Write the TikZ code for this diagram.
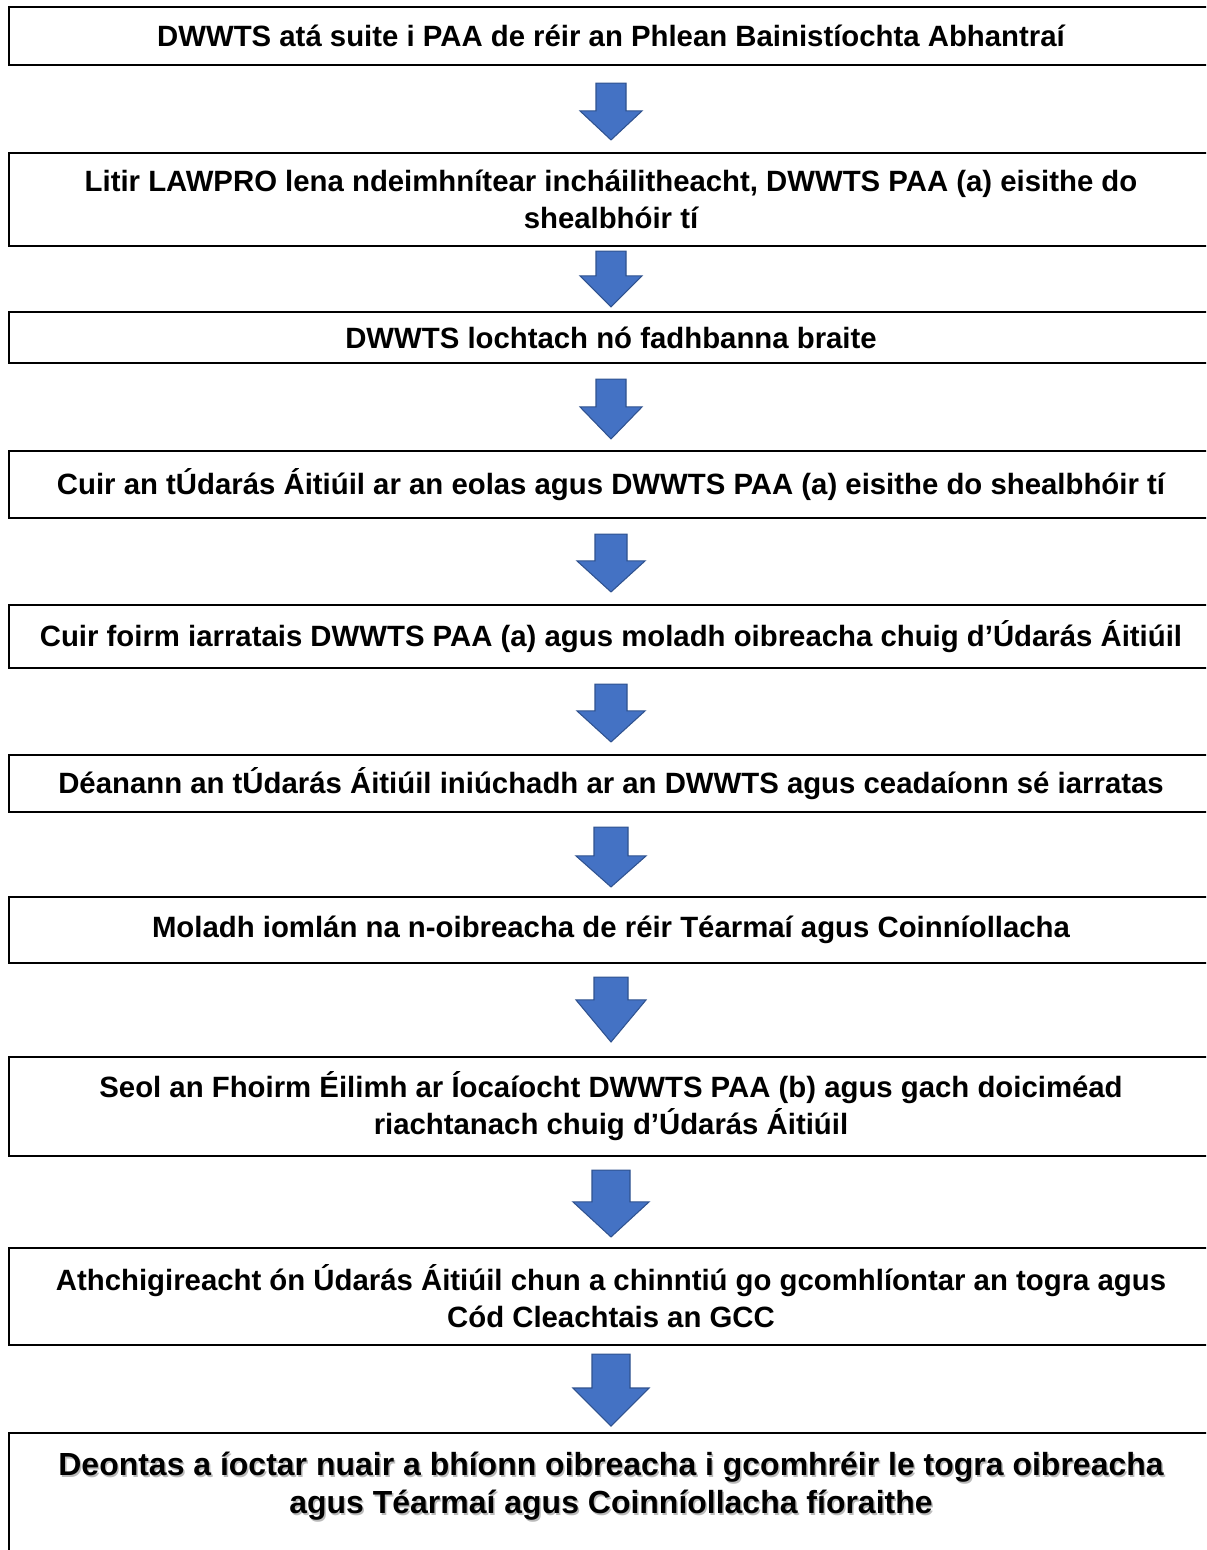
\documentclass[tikz,border=0pt]{standalone}
\usepackage{fontspec}
\setmainfont{Liberation Sans}
\usepackage{tikz}
\usetikzlibrary{calc,positioning}
\definecolor{arrowblue}{HTML}{4472C4}
\definecolor{arrowedge}{HTML}{2F528F}
% block arrow from box #1 down to box #2
% #3 gap below #1, #4 gap above #2, #5 head length, #6 half shaft, #7 half head
\newcommand{\flowarrow}[7]{%
  \filldraw[arrowfill]
    ($(#1.south)+(-#6,#3)$) -- ($(#1.south)+(#6,#3)$)
    -- ($(#2.north)+(#6,-#4-#5)$) -- ($(#2.north)+(#7,-#4-#5)$)
    -- ($(#2.north)+(0,-#4)$)
    -- ($(#2.north)+(-#7,-#4-#5)$) -- ($(#2.north)+(-#6,-#4-#5)$) -- cycle;}

\begin{document}
\begin{tikzpicture}[x=0.02cm,y=-0.02cm,
  box/.style={draw=black,line width=1.2pt,minimum width=24.08cm,align=center,
    font=\fontsize{16.7}{21}\selectfont\bfseries,inner sep=0pt},
  lastfont/.style={align=center,font=\fontsize{18.2}{22}\selectfont\bfseries},
  arrowfill/.style={fill=arrowblue,draw=arrowedge,line width=0.6pt,line join=miter}]
 \useasboundingbox (0,0) rectangle (1206,1550);
 \clip (0,0) rectangle (1206,1550);
 \node[box,minimum height=1.16cm] (b1) at (611,36) {DWWTS atá suite i PAA de réir an Phlean Bainistíochta Abhantraí};
 \node[box,minimum height=1.86cm] (b2) at (611,199.5) {Litir LAWPRO lena ndeimhnítear incháilitheacht, DWWTS PAA (a) eisithe do\\shealbhóir tí};
 \node[box,minimum height=1.02cm] (b3) at (611,337.5) {DWWTS lochtach nó fadhbanna braite};
 \node[box,minimum height=1.34cm] (b4) at (611,484.5) {Cuir an tÚdarás Áitiúil ar an eolas agus DWWTS PAA (a) eisithe do shealbhóir tí};
 \node[box,minimum height=1.26cm] (b5) at (611,636.5) {Cuir foirm iarratais DWWTS PAA (a) agus moladh oibreacha chuig d’Údarás Áitiúil};
 \node[box,minimum height=1.14cm] (b6) at (611,783.5) {Déanann an tÚdarás Áitiúil iniúchadh ar an DWWTS agus ceadaíonn sé iarratas};
 \node[box,minimum height=1.32cm] (b7) at (611,930) {Moladh iomlán na n-oibreacha de réir Téarmaí agus Coinníollacha};
 \node[box,minimum height=1.98cm] (b8) at (611,1106.5) {Seol an Fhoirm Éilimh ar Íocaíocht DWWTS PAA (b) agus gach doiciméad\\riachtanach chuig d’Údarás Áitiúil};
 \node[box,minimum height=1.94cm] (b9) at (611,1296.5) {Athchigireacht ón Údarás Áitiúil chun a chinntiú go gcomhlíontar an togra agus\\Cód Cleachtais an GCC};
 % last box runs off the page
 \coordinate (b10) at (611,1433);
 \draw[line width=1.2pt] (1220,1433) -- (9,1433) -- (9,1600);
 \node[lastfont,text=black!45,opacity=0.6] at (612.5,1488) {Deontas a íoctar nuair a bhíonn oibreacha i gcomhréir le togra oibreacha\\agus Téarmaí agus Coinníollacha fíoraithe};
 \node[lastfont] (t10) at (611,1486) {Deontas a íoctar nuair a bhíonn oibreacha i gcomhréir le togra oibreacha\\agus Téarmaí agus Coinníollacha fíoraithe};
 % arrows
 \flowarrow{b1}{b2}{17}{12}{29}{15}{31}
 \flowarrow{b2}{b3}{4}{4}{31}{15}{31}
 \flowarrow{b3}{b4}{15}{11}{32}{15}{31}
 \flowarrow{b4}{b5}{15}{12}{31}{16}{34}
 \flowarrow{b5}{b6}{15}{12}{31}{16}{34}
 \flowarrow{b6}{b7}{14}{9}{31}{17}{35}
 \flowarrow{b7}{b8}{13}{14}{42}{17}{35}
 \flowarrow{b8}{b9}{13}{10}{35}{19}{38}
 \flowarrow{b9}{b10}{8}{7}{38}{19}{38}
\end{tikzpicture}
\end{document}
